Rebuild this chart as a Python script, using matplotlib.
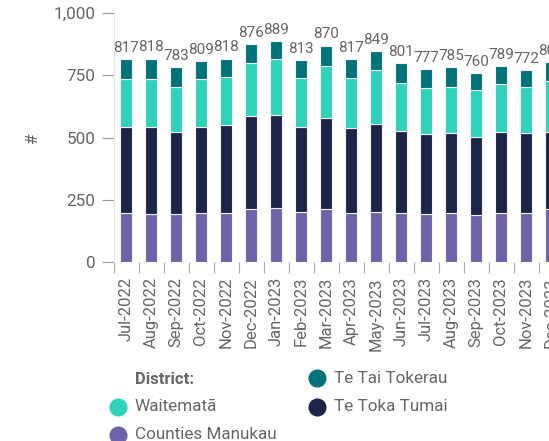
import matplotlib
matplotlib.use("Agg")
import matplotlib.pyplot as plt
from matplotlib.lines import Line2D
import numpy as np

plt.rcParams['font.family'] = ['Roboto', 'DejaVu Sans']

months = ['Jul-2022', 'Aug-2022', 'Sep-2022', 'Oct-2022', 'Nov-2022', 'Dec-2022',
          'Jan-2023', 'Feb-2023', 'Mar-2023', 'Apr-2023', 'May-2023', 'Jun-2023',
          'Jul-2023', 'Aug-2023', 'Sep-2023', 'Oct-2023', 'Nov-2023', 'Dec-2023']

# stacked from bottom to top
counties_manukau = [195, 192, 192, 197, 197, 212, 215, 199, 211, 197, 201, 196,
                    192, 197, 187, 197, 197, 211]
te_toka_tumai = [346, 349, 329, 344, 355, 376, 377, 343, 366, 341, 352, 331,
                 321, 320, 315, 325, 320, 312]
waitemata = [193, 193, 182, 193, 192, 211, 223, 199, 212, 200, 217, 194,
             188, 188, 188, 193, 188, 206]
te_tai_tokerau = [83, 84, 80, 75, 74, 77, 74, 72, 81, 79, 79, 80,
                  76, 80, 70, 74, 67, 74]
totals = [817, 818, 783, 809, 818, 876, 889, 813, 870, 817, 849, 801,
          777, 785, 760, 789, 772, 803]

series = [('Counties Manukau', counties_manukau, '#6e62a8'),
          ('Te Toka Tumai', te_toka_tumai, '#1c2449'),
          ('Waitematā', waitemata, '#2fd3b9'),
          ('Te Tai Tokerau', te_tai_tokerau, '#00737a')]

W, H = 549, 441
fig = plt.figure(figsize=(W / 100, H / 100), dpi=100)
n = len(months)
# axes runs past the right edge, like the reference which is cut off
ax = fig.add_axes([113.5 / W, (H - 261.7) / H, (n * 25) / W, (261.7 - 13.3) / H])

x = np.arange(n)
bottom = np.zeros(n)
for name, vals, col in series:
    ax.bar(x, vals, 0.5, bottom=bottom, color=col, edgecolor='#f4f2fa', linewidth=0.8)
    bottom += np.array(vals)

for i, t in enumerate(totals):
    ax.annotate(str(t), (i, t), xytext=(0, 3), textcoords='offset points',
                ha='center', va='bottom', fontsize=11, color='#666666',
                annotation_clip=False)

ax.set_xlim(-0.5, n - 0.5)
ax.set_ylim(0, 1000)
ax.set_yticks([0, 250, 500, 750, 1000])
ax.set_yticklabels(['0', '250', '500', '750', '1,000'])
ax.tick_params(axis='y', length=9, width=0.8, color='#999999', pad=4,
               labelsize=12.3, labelcolor='#666666')

ax.set_xticks(x)
ax.set_xticklabels(months, rotation=90)
ax.tick_params(axis='x', which='major', length=0, pad=11, labelsize=12,
               labelcolor='#666666')
ax.set_xticks(np.arange(n) - 0.5, minor=True)
ax.tick_params(axis='x', which='minor', length=8, width=0.8, color='#aaaaaa')

for s in ['top', 'right', 'bottom']:
    ax.spines[s].set_visible(False)
ax.spines['left'].set_color('#e6e6e6')
ax.spines['left'].set_linewidth(0.8)

ax.set_ylabel('#', color='#666666', fontsize=12)
ax.yaxis.set_label_coords(-73 / (n * 25), 0.5)

# legend drawn by hand in figure pixels
fig.text(135 / W, 1 - 380 / H, 'District:', fontsize=12, fontweight='bold',
         color='#666666', va='center', ha='left')
leg_items = [('Waitematā', '#2fd3b9', 117.7, 406.7),
             ('Counties Manukau', '#6e62a8', 117.7, 434.5),
             ('Te Tai Tokerau', '#00737a', 316.7, 378.3),
             ('Te Toka Tumai', '#1c2449', 316.7, 406.7)]
for label, col, px, py in leg_items:
    fig.add_artist(Line2D([px / W], [1 - py / H], marker='o', markersize=12,
                          color=col, linestyle='none', transform=fig.transFigure))
    fig.text((px + 17) / W, 1 - py / H, label, fontsize=12.3, color='#666666',
             va='center', ha='left')

fig.savefig('out.png', dpi=100)
